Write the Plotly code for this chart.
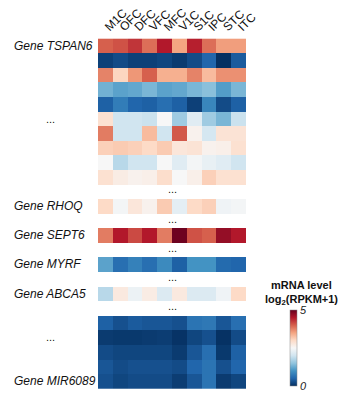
import plotly.graph_objects as go

regions = ["M1C", "OFC", "DFC", "VFC", "MFC", "V1C", "S1C", "IPC", "STC", "ITC"]

top_block = [
    [4.0, 4.1, 4.3, 3.9, 4.5, 3.5, 4.45, 3.9, 3.55, 3.55],
    [0.15, 0.25, 0.15, 0.15, 0.2, 0.1, 0.25, 0.5, 0.0, 0.4],
    [3.75, 3.05, 3.6, 4.0, 3.4, 3.4, 3.75, 3.3, 3.65, 3.65],
    [1.3, 1.15, 1.2, 1.35, 1.15, 1.2, 1.35, 1.45, 1.1, 1.35],
    [0.45, 0.75, 0.5, 0.45, 0.6, 0.45, 0.15, 0.85, 0.25, 0.45],
    [2.9, 2.0, 2.0, 1.95, 2.5, 1.6, 2.2, 1.6, 1.35, 1.95],
    [3.8, 2.0, 2.0, 3.3, 2.0, 4.05, 2.6, 2.05, 2.85, 2.85],
    [3.1, 3.15, 3.1, 3.0, 3.15, 2.8, 2.85, 2.6, 2.65, 2.9],
    [2.5, 1.8, 2.0, 2.0, 2.5, 2.2, 2.45, 2.3, 2.2, 2.0],
    [2.9, 2.7, 2.6, 2.65, 2.95, 2.5, 2.65, 3.1, 2.9, 2.9],
]
rhoq = [3.0, 2.45, 2.8, 2.6, 3.15, 2.25, 3.0, 3.1, 2.4, 2.45]
sept6 = [3.8, 4.5, 4.15, 4.5, 3.8, 4.95, 4.1, 4.0, 4.7, 4.5]
myrf = [1.15, 0.6, 0.8, 0.6, 0.9, 0.45, 1.0, 1.0, 0.55, 0.5]
abca5 = [1.8, 2.75, 2.35, 2.7, 2.15, 2.75, 2.15, 2.15, 2.4, 3.0]
bottom_block = [
    [0.45, 0.3, 0.4, 0.35, 0.35, 0.3, 0.65, 0.7, 0.35, 0.6],
    [0.1, 0.08, 0.08, 0.1, 0.12, 0.03, 0.2, 0.3, 0.02, 0.25],
    [0.25, 0.2, 0.2, 0.2, 0.2, 0.1, 0.35, 0.6, 0.08, 0.45],
    [0.35, 0.25, 0.3, 0.3, 0.3, 0.25, 0.5, 0.65, 0.3, 0.5],
    [0.3, 0.2, 0.25, 0.25, 0.25, 0.12, 0.35, 0.65, 0.1, 0.2],
]

gene_labels = ["Gene TSPAN6", "Gene RHOQ", "Gene SEPT6", "Gene MYRF", "Gene ABCA5", "Gene MIR6089"]

gap = [None] * len(regions)
rows = (top_block + [gap, rhoq, gap, sept6, gap, myrf, gap, abca5, gap] + bottom_block)
n_rows = len(rows)

gene_rows = [0, 11, 13, 15, 17, n_rows - 1]
gap_rows = [10, 12, 14, 16, 18]
left_dot_rows = [5, 20]

colorscale = [
    [0.0, "rgb(5,48,97)"], [0.1, "rgb(33,102,172)"], [0.2, "rgb(67,147,195)"],
    [0.3, "rgb(146,197,222)"], [0.4, "rgb(209,229,240)"], [0.5, "rgb(247,247,247)"],
    [0.6, "rgb(253,219,199)"], [0.7, "rgb(244,165,130)"], [0.8, "rgb(214,96,77)"],
    [0.9, "rgb(178,24,43)"], [1.0, "rgb(103,0,31)"],
]

font = "Liberation Sans"

fig = go.Figure(go.Heatmap(
    z=rows, x=regions, y=list(range(n_rows)),
    zmin=0, zmax=5, colorscale=colorscale, hoverongaps=False,
    colorbar=dict(
        x=1.30, xanchor="left", xref="paper",
        y=(390 - 348) / 353, yanchor="middle", yref="paper",
        len=76, lenmode="pixels",
        thickness=7, thicknessmode="pixels", xpad=0, ypad=0,
        outlinewidth=0.5, outlinecolor="#888",
        tickvals=[0, 5], ticktext=["0", "5"], ticks="",
        tickfont=dict(family=font, size=11, color="#222", style="italic"),
    ),
))

annotations = []
for r, lab in zip(gene_rows, gene_labels):
    annotations.append(dict(x=-0.58, y=r, xref="paper", yref="y", text=lab,
                            xanchor="left", showarrow=False,
                            font=dict(family=font, size=12, color="#111", style="italic")))
for r in gap_rows:
    annotations.append(dict(x=0.5, y=r - 0.15, xref="paper", yref="y", text="...",
                            xanchor="center", showarrow=False,
                            font=dict(family=font, size=11, color="#111")))
for r in left_dot_rows:
    annotations.append(dict(x=-0.318, y=r, xref="paper", yref="y", text="...",
                            xanchor="center", showarrow=False,
                            font=dict(family=font, size=11, color="#111")))
annotations.append(dict(x=1.372, y=(390 - 285) / 353, xref="paper", yref="paper",
                        text="<b>mRNA level</b>", xanchor="center", yanchor="middle",
                        showarrow=False, font=dict(family=font, size=11, color="#111")))
annotations.append(dict(x=1.372, y=(390 - 300) / 353, xref="paper", yref="paper",
                        text="<b>log<sub>2</sub>(RPKM+1)</b>", xanchor="center", yanchor="middle",
                        showarrow=False, font=dict(family=font, size=11, color="#111")))

fig.update_layout(
    template="none",
    width=346, height=400,
    margin=dict(l=98, r=100, t=37, b=10, autoexpand=False),
    paper_bgcolor="white", plot_bgcolor="white",
    annotations=annotations,
    xaxis=dict(side="top", tickangle=-45, showgrid=False, zeroline=False, ticks="",
               automargin=False, showline=False,
               tickfont=dict(family=font, size=12, color="#111")),
    yaxis=dict(autorange="reversed", showticklabels=False, showgrid=False,
               zeroline=False, ticks="", automargin=False, showline=False),
)

fig.write_html("out.html", config={"displayModeBar": False},
               post_script="document.body.style.margin='0';")
